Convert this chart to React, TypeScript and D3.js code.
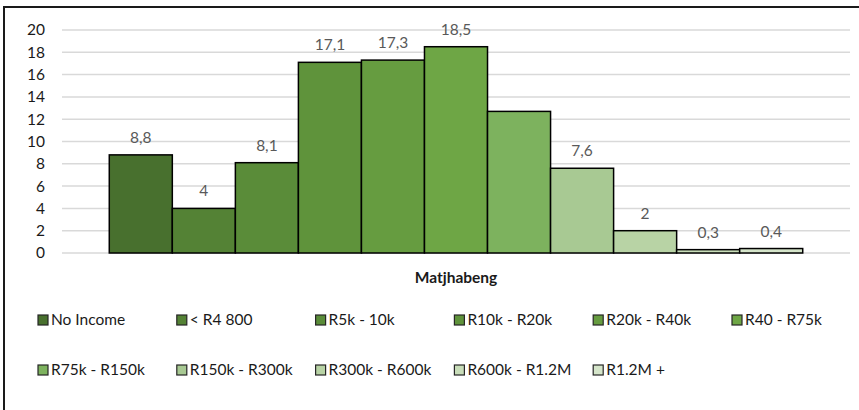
import React from "react";
import * as d3 from "d3";

const categories = ["Matjhabeng"];
const seriesNames = [
  "No Income", "< R4 800", "R5k - 10k", "R10k - R20k", "R20k - R40k", "R40 - R75k",
  "R75k - R150k", "R150k - R300k", "R300k - R600k", "R600k - R1.2M", "R1.2M +",
];
const seriesValues = [8.8, 4, 8.1, 17.1, 17.3, 18.5, 12.7, 7.6, 2, 0.3, 0.4];
const showLabel = [true, true, true, true, true, true, false, true, true, true, true];
const seriesColors = [
  "#48702e", "#548235", "#5a8c39", "#5f933b", "#669c40", "#6ea645",
  "#7db25e", "#a8c993", "#b8d3a5", "#c8ddb9", "#d5e5ca",
];
const yTicks = [0, 2, 4, 6, 8, 10, 12, 14, 16, 18, 20];

const W = 859, H = 410;
const plotL = 62, plotR = 850, plotT = 30, plotB = 253;
const FONT = "Lato, 'Open Sans', sans-serif";
const FS = 15.5;

export default function App() {
  const y = d3.scaleLinear().domain([0, 20]).range([plotB, plotT]);
  const x0 = d3.scaleBand().domain(categories).range([plotL, plotR]).paddingInner(0).paddingOuter(0);
  const bw = x0.bandwidth();
  const gap = (bw * 1.5) / (seriesNames.length + 1.5);
  const x1 = d3.scaleBand<string>().domain(seriesNames)
    .range([x0(categories[0])! + gap / 2, x0(categories[0])! + bw - gap / 2]).padding(0);

  const legendRows = [seriesNames.slice(0, 6), seriesNames.slice(6)];

  return (
    <svg width={W} height={H} style={{ position: "absolute", left: 0, top: 0, background: "#fff" }} fontFamily={FONT}>
      <rect x={0} y={0} width={W} height={H} fill="#fff" />
      <path d={`M4,${H + 5} L4,7 L${W + 5},7`} fill="none" stroke="#1a1a1a" strokeWidth={2} />
      {yTicks.map((t) => (
        <g key={t}>
          {t > 0 && <line x1={plotL} x2={plotR} y1={y(t)} y2={y(t)} stroke="#d9d9d9" strokeWidth={1.5} />}
          <text x={45} y={y(t)} dy="0.35em" textAnchor="end" fontSize={FS} fill="#1a1a1a">{t}</text>
        </g>
      ))}
      <line x1={plotL} x2={plotR} y1={plotB} y2={plotB} stroke="#d9d9d9" strokeWidth={1.5} />
      {seriesNames.map((s, i) => {
        const bx = x1(s)!;
        const by = y(seriesValues[i]);
        return (
          <g key={s}>
            <rect x={bx} y={by} width={x1.bandwidth()} height={plotB - by}
              fill={seriesColors[i]} stroke="#000" strokeWidth={1.5} />
            {showLabel[i] && (
              <text x={bx + x1.bandwidth() / 2} y={by - 12} textAnchor="middle" fontSize={FS} fill="#595959">
                {String(seriesValues[i]).replace(".", ",")}
              </text>
            )}
          </g>
        );
      })}
      <text x={(plotL + plotR) / 2} y={283} textAnchor="middle" fontSize={FS} fontWeight="bold" fill="#1a1a1a">
        {categories[0]}
      </text>
      {legendRows.map((row, r) =>
        row.map((s, j) => {
          const i = r * 6 + j;
          const lx = 38 + j * 138.8;
          const ly = r === 0 ? 320 : 370;
          return (
            <g key={s}>
              <rect x={lx} y={ly - 5} width={10} height={10} fill={seriesColors[i]} stroke="#262626" strokeWidth={1.2} />
              <text x={lx + 13} y={ly} dy="0.35em" fontSize={FS} fill="#1a1a1a">{s}</text>
            </g>
          );
        })
      )}
    </svg>
  );
}
